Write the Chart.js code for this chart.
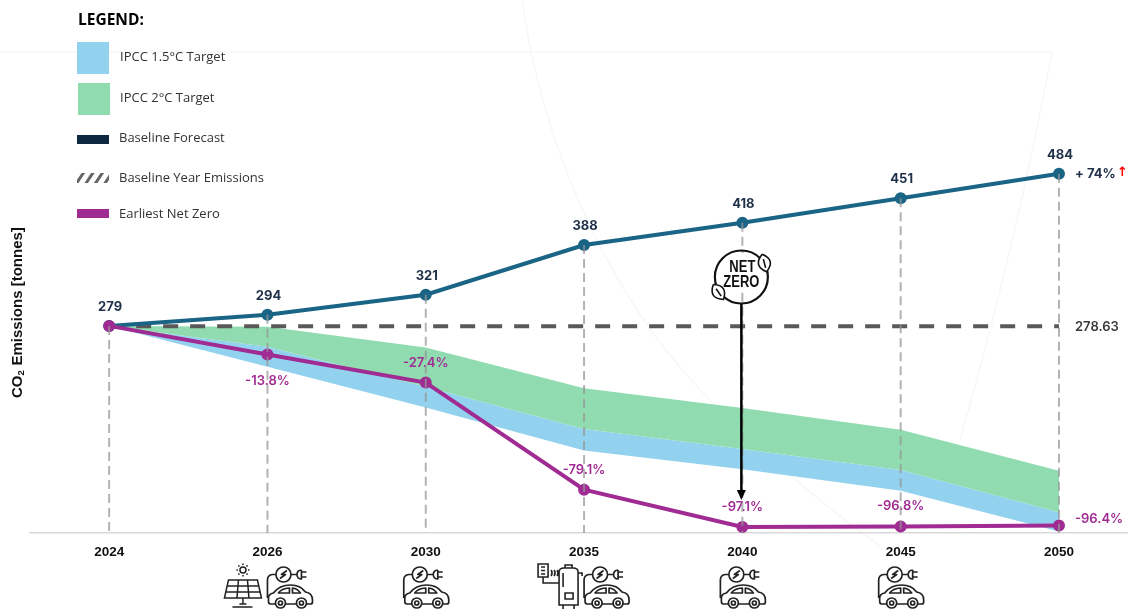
<!DOCTYPE html>
<html>
<head>
<meta charset="utf-8">
<title>CO2 emissions pathway</title>
<script src="https://cdn.jsdelivr.net/npm/chart.js@4"></script>
<style>
    html, body { margin: 0; padding: 0; background: #fff; overflow: hidden; }
    canvas { display: block; }
</style>
</head>
<body>
<canvas id="chart" width="1128" height="610"></canvas>
<script>
const years = ['2024', '2026', '2030', '2035', '2040', '2045', '2050'];
const baselineForecast = [279, 294, 321, 388, 418, 451, 484];
const baselineYear = [278.63, 278.63, 278.63, 278.63, 278.63, 278.63, 278.63];
const earliestNetZero = [279, 240.5, 202.6, 58.3, 8.1, 8.9, 10];
const netZeroLabels = ['', '-13.8%', '-27.4%', '-79.1%', '-97.1%', '-96.8%', '-96.4%'];
const target2Top = [279, 278, 250, 195, 168.5, 139, 84];
const target15Top = [279, 251, 197, 140, 113, 85, 28];
const target15Bottom = [279, 224, 169, 111, 86, 57, 2];
const legendItems = ['IPCC 1.5°C Target', 'IPCC 2°C Target', 'Baseline Forecast', 'Baseline Year Emissions', 'Earliest Net Zero'];

const BLUE = '#93D2EE';
const GREEN = '#90DCB0';
const NAVY = '#1A6485';
const PURPLE = '#A02B93';
const DARK = '#1F3049';

const points = values => values.map((y, x) => ({ x, y }));

function drawBackdrop(ctx) {
    ctx.save();
    ctx.strokeStyle = '#f7f7f7';
    ctx.lineWidth = 1.5;
    ctx.beginPath();
    ctx.moveTo(0, 52);
    ctx.lineTo(1052, 52);
    ctx.moveTo(522, 0);
    ctx.bezierCurveTo(540, 130, 600, 290, 710, 400);
    ctx.bezierCurveTo(760, 450, 815, 500, 880, 546);
    ctx.moveTo(1052, 52);
    ctx.bezierCurveTo(1030, 170, 1000, 300, 960, 440);
    ctx.stroke();
    ctx.restore();
}

function drawLegend(ctx) {
    ctx.save();
    ctx.textBaseline = 'middle';
    ctx.fillStyle = '#000';
    ctx.font = 'bold 15.5px "Open Sans"';
    ctx.fillText('LEGEND:', 78, 21);

    ctx.fillStyle = BLUE;
    ctx.fillRect(77, 42, 32, 32);
    ctx.fillStyle = GREEN;
    ctx.fillRect(78, 83, 32, 32);
    ctx.fillStyle = '#0E2841';
    ctx.fillRect(77, 135, 32, 9);
    ctx.fillStyle = PURPLE;
    ctx.fillRect(77, 209, 32, 9);

    ctx.strokeStyle = '#666';
    ctx.lineWidth = 3;
    ctx.beginPath();
    ctx.rect(77, 173, 32, 10);
    ctx.save();
    ctx.clip();
    ctx.beginPath();
    for (let x = 76; x < 112; x += 9.5) {
        ctx.moveTo(x, 184);
        ctx.lineTo(x + 8, 172);
    }
    ctx.stroke();
    ctx.restore();

    ctx.fillStyle = '#333';
    ctx.font = '13px "Open Sans"';
    const rows = [57, 98, 138, 178, 214];
    legendItems.forEach((text, i) => ctx.fillText(text, i < 2 ? 120 : 119, rows[i]));
    ctx.restore();
}

function drawAxisName(ctx) {
    ctx.save();
    ctx.translate(18, 398);
    ctx.rotate(-Math.PI / 2);
    ctx.textBaseline = 'middle';
    ctx.fillStyle = '#111';
    ctx.font = 'bold 15px "Liberation Sans"';
    ctx.fillText('CO', 0, 0);
    const co = ctx.measureText('CO').width;
    ctx.font = 'bold 9.5px "Liberation Sans"';
    ctx.fillText('2', co, 3);
    ctx.font = 'bold 15px "Liberation Sans"';
    ctx.fillText('Emissions [tonnes]', co + 10, 0);
    ctx.restore();
}

function drawEvCar(ctx, x, y) {
    ctx.save();
    ctx.translate(x, y);
    ctx.strokeStyle = '#222';
    ctx.lineWidth = 1.7;
    ctx.lineJoin = 'round';
    ctx.beginPath();
    ctx.arc(16, 9.5, 7.5, 0, Math.PI * 2);
    ctx.moveTo(19.5, 5.5);
    ctx.lineTo(14, 9.5);
    ctx.lineTo(18, 9.5);
    ctx.lineTo(12.5, 13.5);
    ctx.moveTo(23.5, 9.5);
    ctx.lineTo(29, 9.5);
    ctx.moveTo(34, 5);
    ctx.lineTo(34, 14);
    ctx.bezierCurveTo(28, 14, 28, 5, 34, 5);
    ctx.moveTo(34, 7);
    ctx.lineTo(39, 7);
    ctx.moveTo(34, 12);
    ctx.lineTo(39, 12);
    ctx.moveTo(8.5, 9.5);
    ctx.lineTo(5, 9.5);
    ctx.quadraticCurveTo(0, 10, 0, 15);
    ctx.lineTo(0, 33);
    ctx.moveTo(8, 39);
    ctx.lineTo(3, 39);
    ctx.quadraticCurveTo(1, 39, 1, 36);
    ctx.lineTo(1, 33);
    ctx.quadraticCurveTo(1, 29, 6, 28);
    ctx.quadraticCurveTo(12, 20, 23, 20);
    ctx.quadraticCurveTo(33, 20, 38, 27);
    ctx.quadraticCurveTo(45, 28, 45, 35);
    ctx.lineTo(45, 37);
    ctx.quadraticCurveTo(45, 39, 43, 39);
    ctx.lineTo(39, 39);
    ctx.moveTo(18, 39);
    ctx.lineTo(29, 39);
    ctx.moveTo(11, 28);
    ctx.quadraticCurveTo(14, 23.5, 22, 23);
    ctx.lineTo(22, 28);
    ctx.closePath();
    ctx.moveTo(25, 23);
    ctx.quadraticCurveTo(30, 23.5, 33, 28);
    ctx.lineTo(25, 28);
    ctx.closePath();
    ctx.moveTo(18, 38);
    ctx.arc(13, 38, 5, 0, Math.PI * 2);
    ctx.moveTo(15, 38);
    ctx.arc(13, 38, 2, 0, Math.PI * 2);
    ctx.moveTo(39, 38);
    ctx.arc(34, 38, 5, 0, Math.PI * 2);
    ctx.moveTo(36, 38);
    ctx.arc(34, 38, 2, 0, Math.PI * 2);
    ctx.stroke();
    ctx.restore();
}

function drawSolar(ctx, x, y) {
    ctx.save();
    ctx.translate(x, y);
    ctx.strokeStyle = '#222';
    ctx.lineWidth = 1.5;
    ctx.beginPath();
    ctx.moveTo(4, 17);
    ctx.lineTo(33, 17);
    ctx.lineTo(37, 35);
    ctx.lineTo(0, 35);
    ctx.closePath();
    ctx.moveTo(2.5, 23);
    ctx.lineTo(34.5, 23);
    ctx.moveTo(1.5, 29);
    ctx.lineTo(35.5, 29);
    ctx.moveTo(14, 17);
    ctx.lineTo(12.5, 35);
    ctx.moveTo(23, 17);
    ctx.lineTo(24.5, 35);
    ctx.moveTo(18.5, 35);
    ctx.lineTo(18.5, 41);
    ctx.moveTo(8, 44);
    ctx.lineTo(28, 44);
    ctx.moveTo(15, 41);
    ctx.lineTo(22, 41);
    ctx.moveTo(21.5, 7);
    ctx.arc(18.5, 7, 3, 0, Math.PI * 2);
    for (let i = 0; i < 8; i++) {
        const a = i * Math.PI / 4;
        ctx.moveTo(18.5 + Math.cos(a) * 5, 7 + Math.sin(a) * 5);
        ctx.lineTo(18.5 + Math.cos(a) * 6.5, 7 + Math.sin(a) * 6.5);
    }
    ctx.stroke();
    ctx.restore();
}

function drawBoiler(ctx, x, y) {
    ctx.save();
    ctx.translate(x, y);
    ctx.strokeStyle = '#222';
    ctx.lineWidth = 1.6;
    ctx.beginPath();
    ctx.rect(1, 0, 10, 13);
    ctx.moveTo(4, 3);
    ctx.lineTo(8, 3);
    ctx.moveTo(4, 6.5);
    ctx.lineTo(8, 6.5);
    ctx.moveTo(4, 10);
    ctx.lineTo(8, 10);
    ctx.moveTo(6, 13);
    ctx.lineTo(6, 19);
    ctx.lineTo(22, 19);
    ctx.moveTo(14, 6);
    ctx.quadraticCurveTo(16, 9, 14, 12);
    ctx.moveTo(17, 6);
    ctx.quadraticCurveTo(19, 9, 17, 12);
    ctx.moveTo(20, 6);
    ctx.quadraticCurveTo(22, 9, 20, 12);
    ctx.moveTo(22, 8);
    ctx.quadraticCurveTo(22, 4, 27, 4);
    ctx.lineTo(36, 4);
    ctx.quadraticCurveTo(41, 4, 41, 8);
    ctx.lineTo(41, 41);
    ctx.lineTo(22, 41);
    ctx.closePath();
    ctx.moveTo(28, 4);
    ctx.lineTo(28, 1);
    ctx.lineTo(35, 1);
    ctx.lineTo(35, 4);
    ctx.moveTo(41, 9);
    ctx.lineTo(45, 9);
    ctx.lineTo(45, 12);
    ctx.moveTo(26, 9);
    ctx.lineTo(26, 23);
    ctx.moveTo(28, 29);
    ctx.lineTo(36, 29);
    ctx.lineTo(36, 35);
    ctx.lineTo(28, 35);
    ctx.closePath();
    ctx.moveTo(26, 41);
    ctx.lineTo(26, 45);
    ctx.moveTo(37, 41);
    ctx.lineTo(37, 45);
    ctx.stroke();
    ctx.restore();
}

function drawLeaf(ctx, cx, cy, angle) {
    ctx.save();
    ctx.translate(cx, cy);
    ctx.rotate(angle);
    ctx.beginPath();
    ctx.moveTo(0, -9);
    ctx.quadraticCurveTo(12, 0, 0, 9);
    ctx.quadraticCurveTo(-12, 0, 0, -9);
    ctx.moveTo(0, -4);
    ctx.lineTo(0, 5);
    ctx.fillStyle = '#fff';
    ctx.fill();
    ctx.stroke();
    ctx.restore();
}

function drawNetZero(ctx, cx, top, tip) {
    const cy = top + 54;
    ctx.save();
    ctx.fillStyle = '#fff';
    ctx.fillRect(cx - 20, cy - 24, 40, 36);
    ctx.strokeStyle = '#111';
    ctx.lineWidth = 2.2;
    ctx.beginPath();
    ctx.arc(cx, cy, 26.5, 0, Math.PI * 2);
    ctx.stroke();
    ctx.lineWidth = 1.6;
    drawLeaf(ctx, cx + 23, cy - 14, -0.25);
    drawLeaf(ctx, cx - 23, cy + 15, -0.6);
    ctx.fillStyle = '#111';
    ctx.textAlign = 'center';
    ctx.textBaseline = 'middle';
    ctx.font = 'bold 16.5px "Liberation Sans"';
    ctx.fillText('NET', cx + 1, cy - 10, 26);
    ctx.fillText('ZERO', cx, cy + 5, 36);
    ctx.fillStyle = '#000';
    ctx.fillRect(cx - 1.25, cy + 27, 2.5, tip - cy - 35);
    ctx.beginPath();
    ctx.moveTo(cx - 4.5, tip - 10);
    ctx.lineTo(cx + 4.5, tip - 10);
    ctx.lineTo(cx, tip);
    ctx.closePath();
    ctx.fill();
    ctx.restore();
}

// everything that chart.js has no mark for: legend, labels, drop lines, icons
const annotations = {
    id: 'annotations',
    beforeDraw(chart) {
        drawBackdrop(chart.ctx);
    },
    afterDatasetsDraw(chart) {
        const { ctx, scales: { x, y } } = chart;
        ctx.save();
        ctx.textAlign = 'center';
        ctx.textBaseline = 'middle';

        ctx.fillStyle = DARK;
        ctx.font = '700 13px Inter';
        years.forEach((year, i) => {
            ctx.fillText(baselineForecast[i], x.getPixelForValue(i) + 1, y.getPixelForValue(baselineForecast[i]) - 19);
        });

        ctx.fillStyle = PURPLE;
        ctx.font = '600 13px Inter';
        years.slice(1, 6).forEach((year, n) => {
            const i = n + 1;
            ctx.fillText(netZeroLabels[i], x.getPixelForValue(i), y.getPixelForValue(earliestNetZero[i]) + (i === 1 ? 27 : -20));
        });

        ctx.textAlign = 'left';
        const last = years.length - 1;
        const right = x.getPixelForValue(last) + 16;
        ctx.fillText(netZeroLabels[last], right, y.getPixelForValue(earliestNetZero[last]) - 6);

        ctx.fillStyle = '#3A3A3A';
        ctx.font = '600 13px Inter';
        ctx.fillText(baselineYear[last], right, y.getPixelForValue(baselineYear[last]) + 1);

        ctx.fillStyle = DARK;
        ctx.font = '700 13px Inter';
        ctx.fillText('+ 74%', right, y.getPixelForValue(baselineForecast[last]));
        ctx.fillStyle = '#FF0000';
        ctx.font = 'bold 13px "DejaVu Sans"';
        ctx.fillText('↑', right + 42, y.getPixelForValue(baselineForecast[last]) - 1);

        ctx.strokeStyle = 'rgba(150, 150, 150, 0.72)';
        ctx.lineWidth = 2;
        ctx.setLineDash([9, 5]);
        ctx.beginPath();
        years.forEach((year, i) => {
            const px = x.getPixelForValue(i);
            ctx.moveTo(px, y.getPixelForValue(baselineForecast[i]));
            ctx.lineTo(px, y.getPixelForValue(0));
        });
        ctx.stroke();
        ctx.restore();

        const netZeroX = x.getPixelForValue(years.indexOf('2040')) - 1;
        drawNetZero(ctx, netZeroX, 223, 500);
    },
    afterDraw(chart) {
        const { ctx, scales: { x } } = chart;
        drawLegend(ctx);
        drawAxisName(ctx);
        ['2026', '2030', '2035', '2040', '2045'].forEach(year => {
            const px = x.getPixelForValue(years.indexOf(year));
            drawEvCar(ctx, year === '2026' || year === '2035' ? px : px - 22, 565);
        });
        drawSolar(ctx, x.getPixelForValue(years.indexOf('2026')) - 43, 563);
        drawBoiler(ctx, x.getPixelForValue(years.indexOf('2035')) - 47, 564);
    }
};

new Chart(document.getElementById('chart').getContext('2d'), {
    type: 'line',
    data: {
        datasets: [
            { label: legendItems[4], data: points(earliestNetZero), borderColor: PURPLE, backgroundColor: PURPLE, borderWidth: 4, pointRadius: 4, fill: false },
            { label: legendItems[2], data: points(baselineForecast), borderColor: NAVY, backgroundColor: NAVY, borderWidth: 4, pointRadius: 4, fill: false },
            { label: legendItems[3], data: points(baselineYear), borderColor: '#595959', borderWidth: 4, borderDash: [15, 12], pointRadius: 0, fill: false },
            { label: legendItems[1], data: points(target2Top), borderWidth: 0, pointRadius: 0, backgroundColor: GREEN, fill: '+1' },
            { label: legendItems[0], data: points(target15Top), borderWidth: 0, pointRadius: 0, backgroundColor: BLUE, fill: '+1' },
            { label: 'IPCC 1.5°C lower', data: points(target15Bottom), borderWidth: 0, pointRadius: 0, fill: false }
        ]
    },
    options: {
        responsive: false,
        animation: false,
        layout: { autoPadding: false, padding: { left: 30, right: 0, top: 0, bottom: 0 } },
        plugins: { legend: { display: false }, tooltip: { enabled: false } },
        scales: {
            x: {
                type: 'linear',
                min: -0.5,
                max: 6.436,
                afterBuildTicks(scale) {
                    scale.ticks = years.map((year, value) => ({ value }));
                },
                afterFit(scale) {
                    scale.height = 77;
                },
                grid: { display: false },
                border: { color: '#d9d9d9', width: 1.5 },
                ticks: {
                    autoSkip: false,
                    maxRotation: 0,
                    padding: 3,
                    color: '#111',
                    font: { family: '"Liberation Sans"', size: 13.5, weight: 'bold' },
                    callback: value => years[value]
                }
            },
            y: { display: false, min: 0, max: 718 }
        }
    },
    plugins: [annotations]
});
</script>
</body>
</html>
